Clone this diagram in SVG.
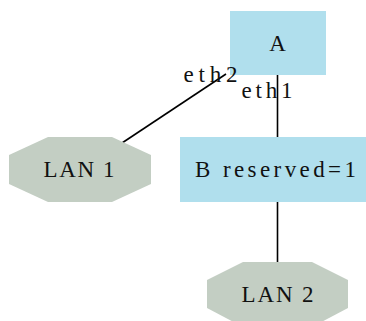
<svg xmlns="http://www.w3.org/2000/svg" width="366" height="321" viewBox="0 0 366 321">
<style>
.box{fill:#b0dfed;stroke:none}
.lan{fill:#c3cec3;stroke:none}
.edge{stroke:#000;stroke-width:1.6;fill:none}
.t{fill:#111;font-family:'Liberation Serif','Times New Roman',serif;font-size:23px}
</style>
<rect width="366" height="321" fill="#fff"/>
<g id="edges">
<line class="edge" x1="226" y1="74" x2="122" y2="143"/>
<line class="edge" x1="277.5" y1="75" x2="277.5" y2="137"/>
<line class="edge" x1="277.5" y1="202" x2="277.5" y2="263"/>
</g>
<g id="node-A">
<rect class="box" x="230" y="11" width="96" height="64"/>
<text class="t" x="277.5" y="51" text-anchor="middle">A</text>
</g>
<g id="node-B">
<rect class="box" x="180" y="137" width="190" height="65"/>
<text class="t" x="195" y="177" textLength="161" lengthAdjust="spacing">B reserved=1</text>
</g>
<g id="node-LAN1">
<polygon class="lan" points="48,137 112,137 151,155 151,184 112,202 48,202 9,184 9,155"/>
<text class="t" x="43.5" y="177" textLength="71" lengthAdjust="spacing">LAN 1</text>
</g>
<g id="node-LAN2">
<polygon class="lan" points="243,262 312,262 348,280 348,308 312,327 243,327 207,308 207,280"/>
<text class="t" x="241.5" y="302" textLength="72" lengthAdjust="spacing">LAN 2</text>
</g>
<g id="labels">
<text class="t" x="183.5" y="82" textLength="54" lengthAdjust="spacing">eth2</text>
<text class="t" x="241.5" y="97.5" textLength="51" lengthAdjust="spacing">eth1</text>
</g>
</svg>
